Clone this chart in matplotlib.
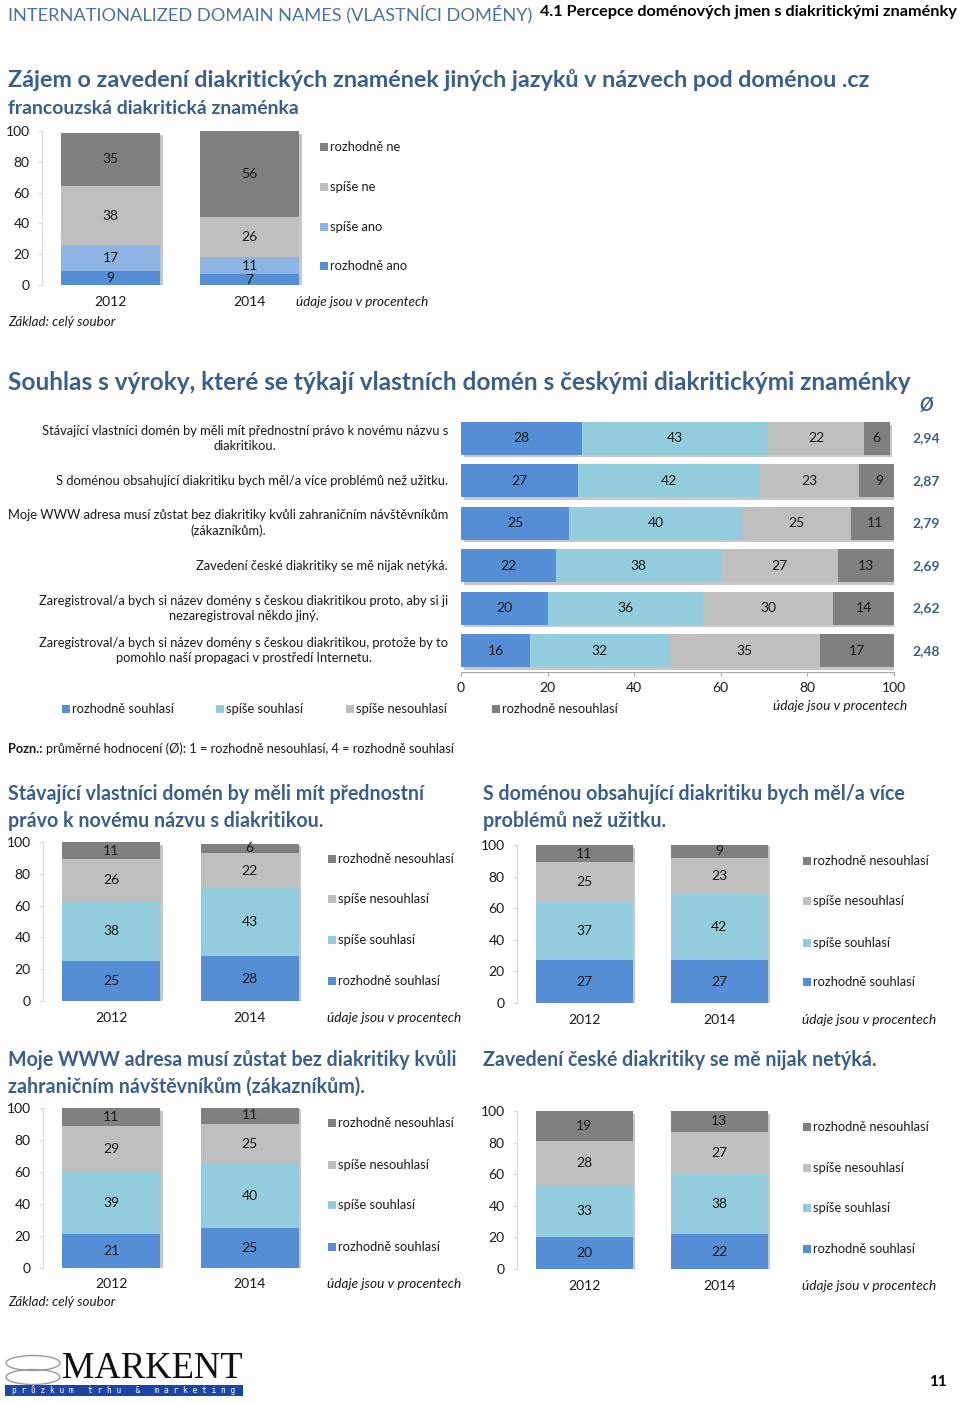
import matplotlib
matplotlib.use('Agg')
import matplotlib.pyplot as plt
import matplotlib.patheffects as pe
from matplotlib.patches import Rectangle, Ellipse
import numpy as np

plt.rcParams['font.family'] = ['Lato', 'DejaVu Sans']

# ---------------- data ----------------
years = ['2012', '2014']

# Chart 1: francouzská diakritická znaménka
fr_categories = ['rozhodně ano', 'spíše ano', 'spíše ne', 'rozhodně ne']
fr_rozhodne_ano = [9, 7]
fr_spise_ano = [17, 11]
fr_spise_ne = [38, 26]
fr_rozhodne_ne = [35, 56]

# Chart 2: Souhlas s výroky
agree_categories = ['rozhodně souhlasí', 'spíše souhlasí', 'spíše nesouhlasí', 'rozhodně nesouhlasí']
statements = [
    'Stávající vlastníci domén by měli mít přednostní právo k novému názvu s\ndiakritikou.',
    'S doménou obsahující diakritiku bych měl/a více problémů než užitku.',
    'Moje WWW adresa musí zůstat bez diakritiky kvůli zahraničním návštěvníkům\n(zákazníkům).',
    'Zavedení české diakritiky se mě nijak netýká.',
    'Zaregistroval/a bych si název domény s českou diakritikou proto, aby si ji\nnezaregistroval někdo jiný.',
    'Zaregistroval/a bych si název domény s českou diakritikou, protože by to\npomohlo naší propagaci v prostředí Internetu.',
]
st_rozhodne_souhlasi = [28, 27, 25, 22, 20, 16]
st_spise_souhlasi = [43, 42, 40, 38, 36, 32]
st_spise_nesouhlasi = [22, 23, 25, 27, 30, 35]
st_rozhodne_nesouhlasi = [6, 9, 11, 13, 14, 17]
st_average = ['2,94', '2,87', '2,79', '2,69', '2,62', '2,48']
x_ticks = [0, 20, 40, 60, 80, 100]

# Small charts (2012, 2014)
a_title = 'Stávající vlastníci domén by měli mít přednostní\nprávo k novému názvu s diakritikou.'
a_rs = [25, 28]; a_ss = [38, 43]; a_sn = [26, 22]; a_rn = [11, 6]
b_title = 'S doménou obsahující diakritiku bych měl/a více\nproblémů než užitku.'
b_rs = [27, 27]; b_ss = [37, 42]; b_sn = [25, 23]; b_rn = [11, 9]
c_title = 'Moje WWW adresa musí zůstat bez diakritiky kvůli\nzahraničním návštěvníkům (zákazníkům).'
c_rs = [21, 25]; c_ss = [39, 40]; c_sn = [29, 25]; c_rn = [11, 11]
d_title = 'Zavedení české diakritiky se mě nijak netýká.'
d_rs = [20, 22]; d_ss = [33, 38]; d_sn = [28, 27]; d_rn = [19, 13]
y_ticks = [0, 20, 40, 60, 80, 100]

# ---------------- style ----------------
W, H = 960, 1403
TITLE_C = '#3A5F8F'
HEAD_C = '#4A72A8'
C_RS = '#558ED5'
C_SS = '#93CDDD'
C_SN = '#BFBFBF'
C_RN = '#808080'
C_SA1 = '#8DB4E2'
TXT = '#1A1A1A'
FS = 10
LFS = 9.3

fig = plt.figure(figsize=(W / 100, H / 100), dpi=100)
ov = fig.add_axes([0, 0, 1, 1], zorder=0)
ov.set_xlim(0, W)
ov.set_ylim(H, 0)
ov.axis('off')
renderer = fig.canvas.get_renderer()


def px_axes(x0, y0, x1, y1):
    return fig.add_axes([x0 / W, 1 - y1 / H, (x1 - x0) / W, (y1 - y0) / H], zorder=2)


def text_width(s, size, **kw):
    t = ov.text(0, 0, s, fontsize=size, **kw)
    bb = t.get_window_extent(renderer)
    t.remove()
    return bb.width


def fit_size(s, target_w, base=10, **kw):
    return base * target_w / text_width(s, base, **kw)


def ftext(x, y, s, target_w, **kw):
    size = fit_size(s, target_w, **kw)
    ov.text(x, y, s, fontsize=size, va='center', **kw)


def legend_item(x, y, label, color, size=LFS):
    ov.add_patch(Rectangle((x, y - 4), 8, 8, color=color, lw=0))
    ov.text(x + 10, y, label, fontsize=size, va='center', ha='left', color=TXT)


shadow = [pe.SimplePatchShadow(offset=(2, -2), shadow_rgbFace='black', alpha=0.22), pe.Normal()]


def vstack(x_axis, top, bottom, centers, barw, right, series, colors):
    ax = px_axes(x_axis, top, right, bottom)
    sp = centers[1] - centers[0]
    ax.set_xlim((x_axis - centers[0]) / sp, (right - centers[0]) / sp)
    ax.set_ylim(0, 100)
    pos = np.arange(len(years))
    w = barw / sp
    totals = np.sum(series, axis=0)
    tb = ax.bar(pos, totals, width=w, color='white', lw=0, zorder=1)
    for p in tb:
        p.set_path_effects(shadow)
    base = np.zeros(len(years))
    for vals, col in zip(series, colors):
        ax.bar(pos, vals, width=w, bottom=base, color=col, lw=0, zorder=2)
        for i, v in enumerate(vals):
            ax.text(pos[i], base[i] + v / 2, str(v), ha='center', va='center',
                    fontsize=FS, color=TXT, zorder=3)
        base = base + np.array(vals)
    ax.set_facecolor('none')
    for s in ['top', 'right', 'bottom']:
        ax.spines[s].set_visible(False)
    ax.spines['left'].set_color('#D9D9D9')
    ax.set_yticks(y_ticks)
    ax.tick_params(axis='y', length=3, pad=6, color='#D9D9D9', labelsize=FS, labelcolor=TXT)
    ax.set_xticks([])
    return ax


# ---------------- header ----------------
ftext(8, 14, 'INTERNATIONALIZED DOMAIN NAMES (VLASTNÍCI DOMÉNY)', 522, color=HEAD_C)
ftext(540, 12, '4.1 Percepce doménových jmen s diakritickými znaménky', 417,
      color='black', fontweight='bold')
ftext(8, 80, 'Zájem o zavedení diakritických znamének jiných jazyků v názvech pod doménou .cz', 864,
      color=TITLE_C, fontweight='bold')
ftext(8, 108, 'francouzská diakritická znaménka', 292, color=TITLE_C, fontweight='bold')

# ---------------- chart 1 ----------------
vstack(42, 131, 285, [110.5, 249.5], 99, 318,
       [fr_rozhodne_ano, fr_spise_ano, fr_spise_ne, fr_rozhodne_ne],
       [C_RS, C_SA1, C_SN, C_RN])
for cx, yr in zip([110.5, 249.5], years):
    ov.text(cx, 302, yr, ha='center', va='center', fontsize=FS, color=TXT)
for yy, lab, col in zip([266, 227, 187, 147], fr_categories, [C_RS, C_SA1, C_SN, C_RN]):
    legend_item(320, yy, lab, col)
ftext(296, 302, 'údaje jsou v procentech', 132, style='italic', color=TXT)
ftext(8, 322, 'Základ: celý soubor', 107, style='italic', color=TXT)

# ---------------- chart 2 ----------------
ftext(8, 382, 'Souhlas s výroky, které se týkají vlastních domén s českými diakritickými znaménky', 905,
      color=TITLE_C, fontweight='bold')
ax2 = px_axes(461, 417, 894, 672)
n = len(statements)
pos = np.arange(n)
ax2.set_ylim(n - 0.5, -0.5)
ax2.set_xlim(0, 100)
series2 = [st_rozhodne_souhlasi, st_spise_souhlasi, st_spise_nesouhlasi, st_rozhodne_nesouhlasi]
cols2 = [C_RS, C_SS, C_SN, C_RN]
tot2 = np.sum(series2, axis=0)
tb = ax2.barh(pos, tot2, height=0.77, color='white', lw=0, zorder=1)
for p in tb:
    p.set_path_effects(shadow)
left = np.zeros(n)
for vals, col in zip(series2, cols2):
    ax2.barh(pos, vals, left=left, height=0.77, color=col, lw=0, zorder=2)
    for i, v in enumerate(vals):
        ax2.text(left[i] + v / 2, pos[i], str(v), ha='center', va='center', fontsize=FS,
                 color=TXT, zorder=3)
    left = left + np.array(vals)
ax2.set_facecolor('none')
for s in ['top', 'right', 'left']:
    ax2.spines[s].set_visible(False)
ax2.spines['bottom'].set_color('#A6A6A6')
ax2.set_yticks([])
ax2.set_xticks(x_ticks)
ax2.tick_params(axis='x', length=3, pad=4, color='#A6A6A6', labelsize=FS, labelcolor=TXT)

row_size = fit_size('Moje WWW adresa musí zůstat bez diakritiky kvůli zahraničním návštěvníkům', 440)
row_y = [438.3, 480.8, 523.3, 565.8, 608.3, 650.8]
for yy, s, av in zip(row_y, statements, st_average):
    ov.text(448, yy, s, ha='right', va='center', multialignment='center', fontsize=row_size,
            color=TXT, linespacing=1.3)
    ov.text(926, yy, av, ha='center', va='center', fontsize=FS, color=TITLE_C, fontweight='bold')
ov.text(926, 406, 'Ø', ha='center', va='center', fontsize=13, color=TITLE_C, fontweight='bold',
        style='italic')

for xx, lab, col in zip([62, 216, 346, 492], agree_categories, cols2):
    legend_item(xx, 709, lab, col)
ftext(773, 706, 'údaje jsou v procentech', 133, style='italic', color=TXT)

pozn_w = text_width('Pozn.:', 9.2, fontweight='bold')
ov.text(8, 749, 'Pozn.:', fontsize=9.2, fontweight='bold', va='center', color=TXT)
ov.text(8 + pozn_w + 3, 749, 'průměrné hodnocení (Ø): 1 = rozhodně nesouhlasí, 4 = rozhodně souhlasí',
        fontsize=9.2, va='center', color=TXT)

# ---------------- small charts ----------------
small = [
    (a_title, [a_rs, a_ss, a_sn, a_rn], 8, 793, 43, 842, 1001, [111, 249.5], 98, 320, 328, [981, 940, 899, 859], 1018),
    (b_title, [b_rs, b_ss, b_sn, b_rn], 483, 793, 517, 845, 1003, [584, 719], 97, 795, 803, [982, 943, 901, 861], 1020),
    (c_title, [c_rs, c_ss, c_sn, c_rn], 8, 1059, 43, 1108, 1268, [111, 249.5], 98, 320, 328, [1247, 1205, 1165, 1123], 1284),
    (d_title, [d_rs, d_ss, d_sn, d_rn], 483, 1059, 517, 1111, 1269, [584, 719], 97, 795, 803, [1249, 1208, 1168, 1127], 1286),
]
title_size = fit_size('Stávající vlastníci domén by měli mít přednostní', 415, fontweight='bold')
for (tt, ser, tx, ty, xa, top, bot, cents, bw, rt, lx, lys, yy_year) in small:
    for k, line in enumerate(tt.split('\n')):
        ov.text(tx, ty + 1 + 27 * k, line, fontsize=title_size, fontweight='bold',
                color=TITLE_C, va='center')
    vstack(xa, top, bot, cents, bw, rt, ser, cols2)
    for cx, yr in zip(cents, years):
        ov.text(cx, yy_year, yr, ha='center', va='center', fontsize=FS, color=TXT)
    for yy, lab, col in zip(lys, agree_categories, cols2):
        legend_item(lx, yy, lab, col)
    ftext(lx - 1, yy_year, 'údaje jsou v procentech', 133, style='italic', color=TXT)
ftext(8, 1302, 'Základ: celý soubor', 107, style='italic', color=TXT)

# ---------------- footer / logo ----------------
ov.add_patch(Ellipse((33, 1363), 54, 15, fill=False, ec='#9A9A9A', lw=1.0))
ov.add_patch(Ellipse((33, 1377), 54, 15, fill=False, ec='#9A9A9A', lw=1.0))
ftext(62, 1369, 'MARKENT', 181, family='Liberation Serif', color='#111111')
ov.add_patch(Rectangle((5, 1385), 238, 11, color='#1E44A8', lw=0))
ftext(12, 1390.5, 'p r ů z k u m   t r h u   &   m a r k e t i n g', 222,
      family='DejaVu Sans Mono', color='white')
ov.text(938, 1382, '11', ha='center', va='center', fontsize=11, fontweight='bold', color='black')

fig.savefig('out.png', dpi=100)
